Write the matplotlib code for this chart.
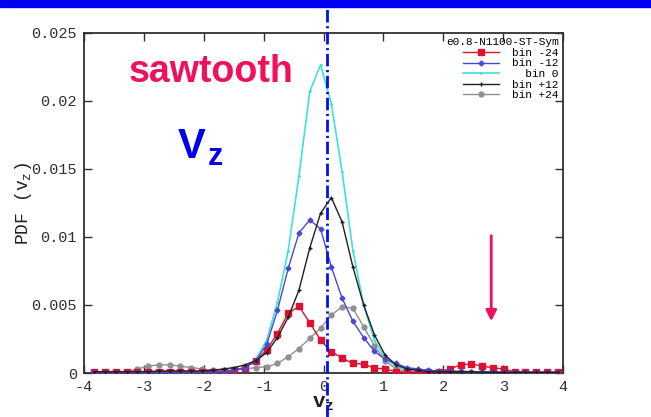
import matplotlib
matplotlib.use("Agg")
import matplotlib.pyplot as plt
from matplotlib.patches import Rectangle

# bin centres of v_z
vz = [-3.83, -3.65, -3.47, -3.29, -3.11, -2.93, -2.75, -2.57, -2.39, -2.21,
      -2.03, -1.85, -1.67, -1.49, -1.31, -1.13, -0.95, -0.77, -0.59, -0.41,
      -0.23, -0.05, 0.13, 0.31, 0.49, 0.67, 0.85, 1.03, 1.21, 1.39,
      1.57, 1.75, 1.93, 2.11, 2.29, 2.47, 2.65, 2.83, 3.01, 3.19,
      3.37, 3.55, 3.73, 3.91]

pdf_m24 = [0.0001, 0.0001, 0.0001, 0.0001, 0.0001, 0.0001, 0.0001, 0.0001, 0.0001, 0.0001,
           0.0001, 0.0001, 0.0001, 0.0002, 0.0004, 0.0009, 0.0017, 0.0029, 0.0044, 0.0049,
           0.0037, 0.0024, 0.00157, 0.0011, 0.0007, 0.00066, 0.00035, 0.0003, 0.0001, 0.00005,
           0.00005, 0.0001, 0.0001, 0.0003, 0.0006, 0.00066, 0.0005, 0.0004, 0.00027, 0.0001,
           0.00005, 0.00005, 0.00005, 0.00005]

pdf_m12 = [0.00005, 0.00005, 0.00005, 0.00005, 0.00005, 0.00005, 0.00005, 0.00005, 0.00005, 0.00005,
           0.00005, 0.0001, 0.0001, 0.0002, 0.0004, 0.0009, 0.0021, 0.0046, 0.0077, 0.0103,
           0.01125, 0.0106, 0.0078, 0.0055, 0.0038, 0.0026, 0.0016, 0.0010, 0.0007, 0.0004,
           0.0003, 0.0002, 0.00015, 0.00015, 0.00012, 0.0001, 0.0001, 0.00008, 0.00005, 0.00005,
           0.00005, 0.00005, 0.00005, 0.00005]

pdf_0 = [0.00003, 0.00003, 0.00003, 0.00003, 0.00003, 0.00003, 0.00003, 0.00003, 0.00003, 0.00003,
         0.00003, 0.00003, 0.00003, 0.0002, 0.0004, 0.0010, 0.0024, 0.0052, 0.0090, 0.0145,
         0.0207, 0.02265, 0.0198, 0.0148, 0.0090, 0.0050, 0.0024, 0.0011, 0.0005, 0.0002,
         0.0001, 0.00003, 0.00003, 0.00003, 0.00003, 0.00003, 0.00003, 0.00003, 0.00003, 0.00003,
         0.00003, 0.00003, 0.00003, 0.00003]

pdf_p12 = [0.0001, 0.0001, 0.0001, 0.0001, 0.0001, 0.0001, 0.00015, 0.00015, 0.00015, 0.00015,
           0.00015, 0.0002, 0.0003, 0.0004, 0.0006, 0.0009, 0.0015, 0.0026, 0.0041, 0.0061,
           0.0092, 0.01174, 0.0129, 0.0111, 0.0078, 0.0050, 0.0028, 0.0013, 0.0006, 0.0003,
           0.0002, 0.0001, 0.0001, 0.0001, 0.0001, 0.0001, 0.00005, 0.00005, 0.00005, 0.00005,
           0.00005, 0.00005, 0.00005, 0.00005]

pdf_p24 = [0.0001, 0.0001, 0.0001, 0.0001, 0.0003, 0.0005, 0.0006, 0.0006, 0.0005, 0.0004,
           0.0003, 0.0002, 0.0002, 0.0002, 0.0003, 0.0004, 0.00046, 0.0007, 0.0012, 0.0018,
           0.00255, 0.0033, 0.00426, 0.00488, 0.00475, 0.0034, 0.0020, 0.0009, 0.0003, 0.0001,
           0.00005, 0.00005, 0.00005, 0.00005, 0.00005, 0.00005, 0.00005, 0.00005, 0.00005, 0.00005,
           0.00005, 0.00005, 0.00005, 0.00005]

labels = ["bin -24", "bin -12", "  bin 0", "bin +12", "bin +24"]
xticks = [-4, -3, -2, -1, 0, 1, 2, 3, 4]
yticks = [0, 0.005, 0.01, 0.015, 0.02, 0.025]
ytick_labels = ["0", "0.005", "0.01", "0.015", "0.02", "0.025"]

pink = "#f0105e"
mono = "Liberation Mono"

fig = plt.figure(figsize=(6.51, 4.17), dpi=100)
ax = fig.add_axes([0.129, 0.1055, 0.736, 0.8155])

# blue band across the top
fig.patches.append(Rectangle((0, 0.983), 1, 0.017, transform=fig.transFigure,
                             color="#0000f0", zorder=0))

ax.plot(vz, pdf_m24, color="#e01030", lw=1.0, marker="s", ms=5, label=labels[0], zorder=3)
ax.plot(vz, pdf_m12, color="#4848d8", lw=1.0, marker="D", ms=2.5, label=labels[1], zorder=4)
ax.plot(vz, pdf_0, color="#40e0e0", lw=1.2, marker=".", ms=2, label=labels[2], zorder=2)
ax.plot(vz, pdf_p12, color="#202020", lw=1.0, marker="+", ms=3, label=labels[3], zorder=5)
ax.plot(vz, pdf_p24, color="#909090", lw=1.0, marker="o", ms=3.5, label=labels[4], zorder=2)

# vertical dash-dot marker running past the axes
ax.axvline(0.05, ymin=-0.13, ymax=1.075, color="#0010f0", lw=2.0,
           ls=(0, (4.5, 1.3, 0.8, 1.3)), clip_on=False, zorder=6)

ax.set_xlim(-4, 4)
ax.set_ylim(0, 0.025)
ax.set_xticks(xticks)
ax.set_xticklabels([str(t) for t in xticks], fontfamily=mono, fontsize=11)
ax.set_yticks(yticks)
ax.set_yticklabels(ytick_labels, fontfamily=mono, fontsize=11)
ax.tick_params(direction="in", length=6, width=1, top=True, right=True,
               colors="#303030", pad=5)
for s in ax.spines.values():
    s.set_linewidth(1.3)
    s.set_color("#303030")

ax.set_xlabel(r"v$_\mathregular{z}$", fontfamily=mono, fontsize=15,
              fontweight="bold", color="#202020", labelpad=0)
ax.set_ylabel(r"PDF (v$_\mathregular{z}$)", fontfamily=mono, fontsize=13,
              color="#202020")
ax.yaxis.set_label_coords(-0.104, 0.497)

leg = ax.legend(title="e0.8-N1100-ST-Sym", loc="upper right", frameon=False,
                prop={"family": mono, "size": 8}, title_fontproperties={"family": mono, "size": 8},
                handlelength=3.2, labelspacing=0.05, borderaxespad=0.2,
                handletextpad=1.2, alignment="right", borderpad=0.2)

fig.text(0.197, 0.804, "sawtooth", color=pink, fontsize=27, fontweight="bold",
         fontfamily="Liberation Sans", va="baseline")
fig.text(0.273, 0.621, "V", color="#0000ee", fontsize=30, fontweight="bold",
         fontfamily="Liberation Sans", va="baseline")
fig.text(0.319, 0.604, "z", color="#0000ee", fontsize=22, fontweight="bold",
         fontfamily="Liberation Sans", va="baseline")

ax.annotate("", xy=(2.8, 0.0036), xytext=(2.8, 0.0103),
            arrowprops=dict(arrowstyle="-|>", color=pink, lw=2, mutation_scale=16))

fig.savefig("out.png", dpi=100)
